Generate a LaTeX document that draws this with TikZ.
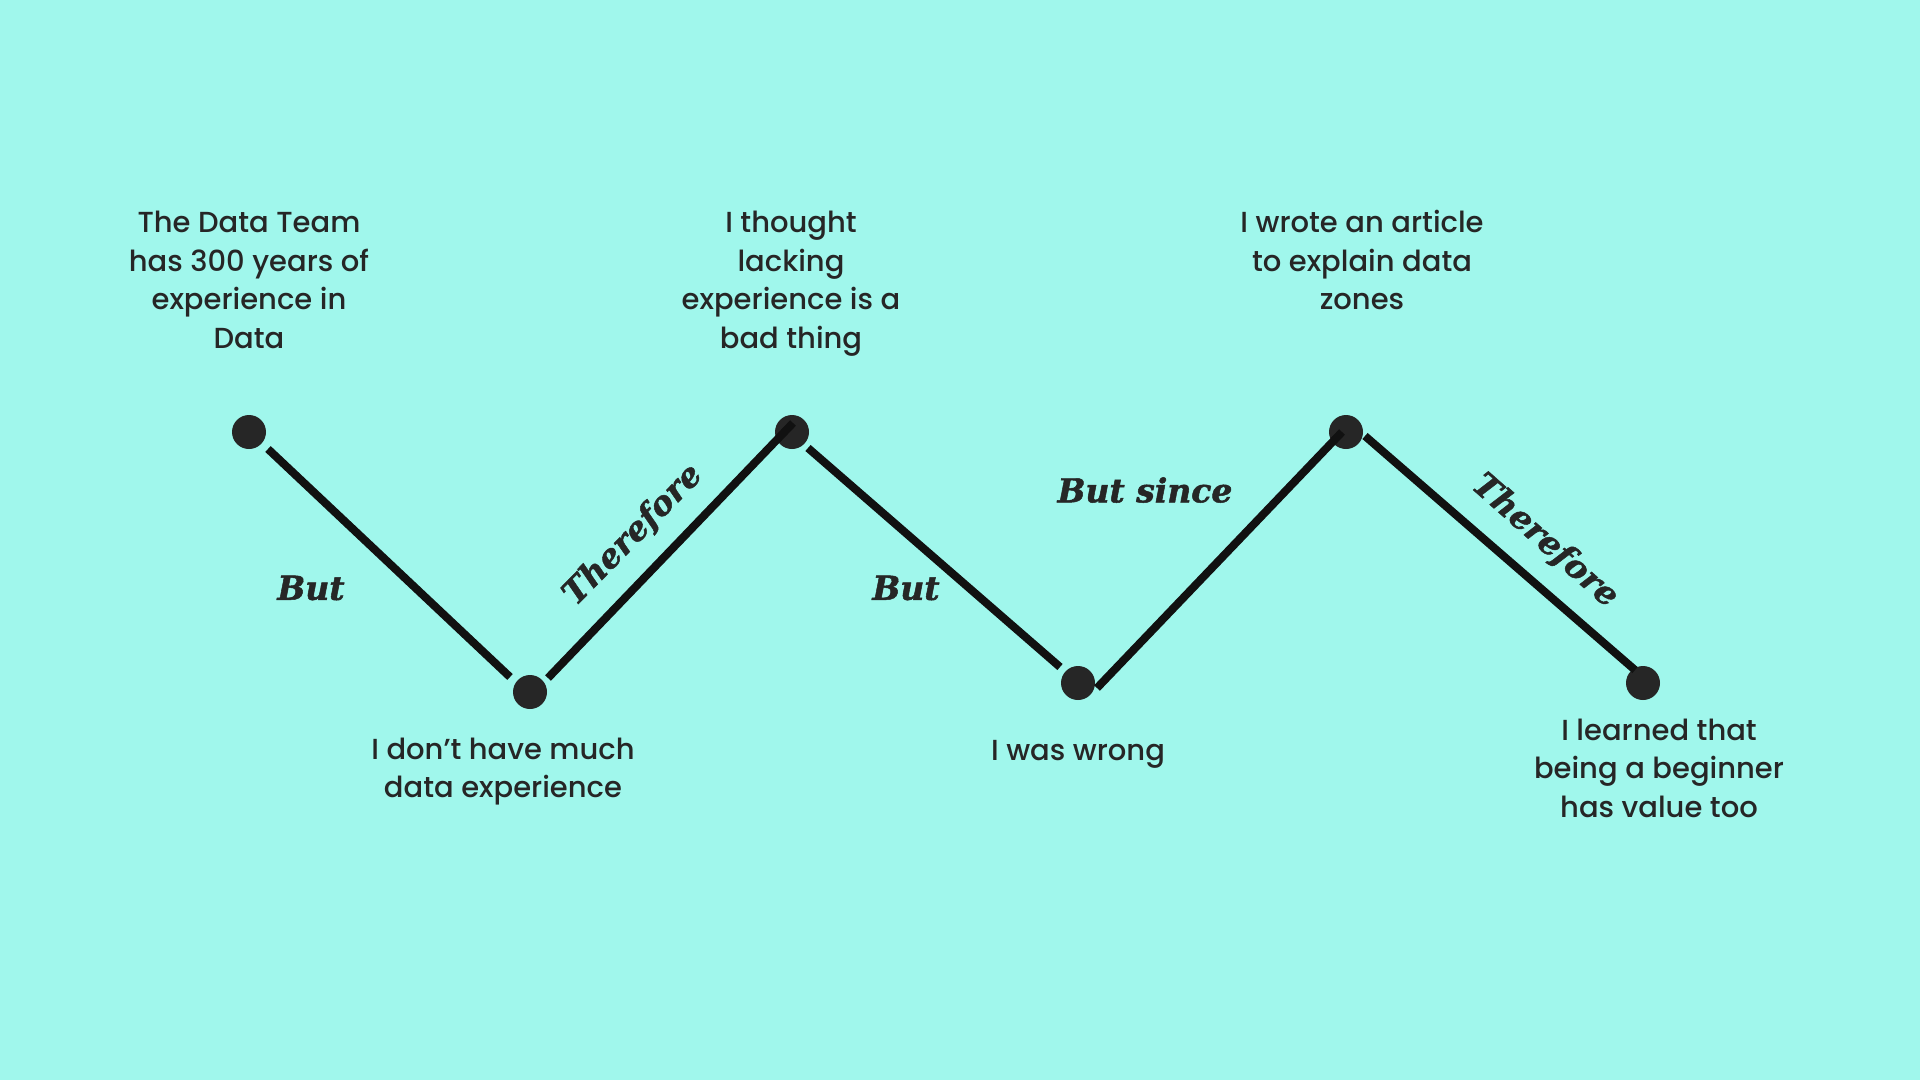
\documentclass[tikz,border=0pt]{standalone}
\usepackage{fontspec}
\setmainfont{Poppins Medium}
\newfontfamily\labelfont{DejaVu Serif}[BoldItalicFeatures={FakeBold=1.5}]
\usetikzlibrary{calc}
\definecolor{bg}{HTML}{A0F7EC}
\definecolor{ink}{HTML}{262626}
\definecolor{wirec}{HTML}{111111}
\tikzset{
  dot/.style={circle, fill=ink, minimum size=34pt, inner sep=0pt},
  story/.style={align=center, text=ink, inner sep=0pt, anchor=base,
    font=\fontsize{29}{38.5}\selectfont},
  link/.style={text=ink, inner sep=0pt,
    font=\labelfont\bfseries\itshape\fontsize{33}{38}\selectfont},
  wire/.style={draw=wirec, line width=8pt, line cap=butt}
}
\begin{document}
\begin{tikzpicture}[x=1pt,y=-1pt]
\useasboundingbox[fill=bg] (0,0) rectangle (1920,1080);
% dots
\node[dot] (d1) at (249,432) {};
\node[dot] (d2) at (530,692) {};
\node[dot] (d3) at (792,432) {};
\node[dot] (d4) at (1078,683) {};
\node[dot] (d5) at (1346,432) {};
\node[dot] (d6) at (1643,683) {};
% line ends
\coordinate (a1) at ($(d1)+(19,17)$);
\coordinate (b1) at ($(d2)+(-20,-15)$);
\coordinate (a2) at ($(d2)+(18,-14)$);
\coordinate (b2) at ($(d3)+(1,-9)$);
\coordinate (a3) at ($(d3)+(16,16)$);
\coordinate (b3) at ($(d4)+(-18,-16)$);
\coordinate (a4) at ($(d4)+(19,5)$);
\coordinate (b4) at ($(d5)+(-4,0)$);
\coordinate (a5) at ($(d5)+(19,4)$);
\coordinate (b5) at ($(d6)+(-8,-13)$);
\draw[wire] (a1) -- (b1);
\draw[wire] (a2) -- (b2);
\draw[wire] (a3) -- (b3);
\draw[wire] (a4) -- (b4);
\draw[wire] (a5) -- (b5);
% story texts (anchored at the baseline of the last line)
\node[story] (t1) at (249,348) {The Data Team\\has 300 years of\\experience in\\Data};
\node[story] (t2) at (503,797.5) {I don’t have much\\data experience};
\node[story] (t3) at (791,348) {I thought\\lacking\\experience is a\\bad thing};
\node[story] (t4) at (1078,760) {I was wrong};
\node[story] (t5) at (1362,309.5) {I wrote an article\\to explain data\\zones};
\node[story] (t6) at (1659,817) {I learned that\\being a beginner\\has value too};
% link labels
\node[link] (l1) at (311,588) {But};
\node[link, rotate=45.5] (l2) at (633,535) {Therefore};
\node[link] (l3) at (906,588) {But};
\node[link] (l4) at (1145,490) {But since};
\node[link, rotate=-41.5] (l5) at (1545,541) {Therefore};
\end{tikzpicture}
\end{document}
